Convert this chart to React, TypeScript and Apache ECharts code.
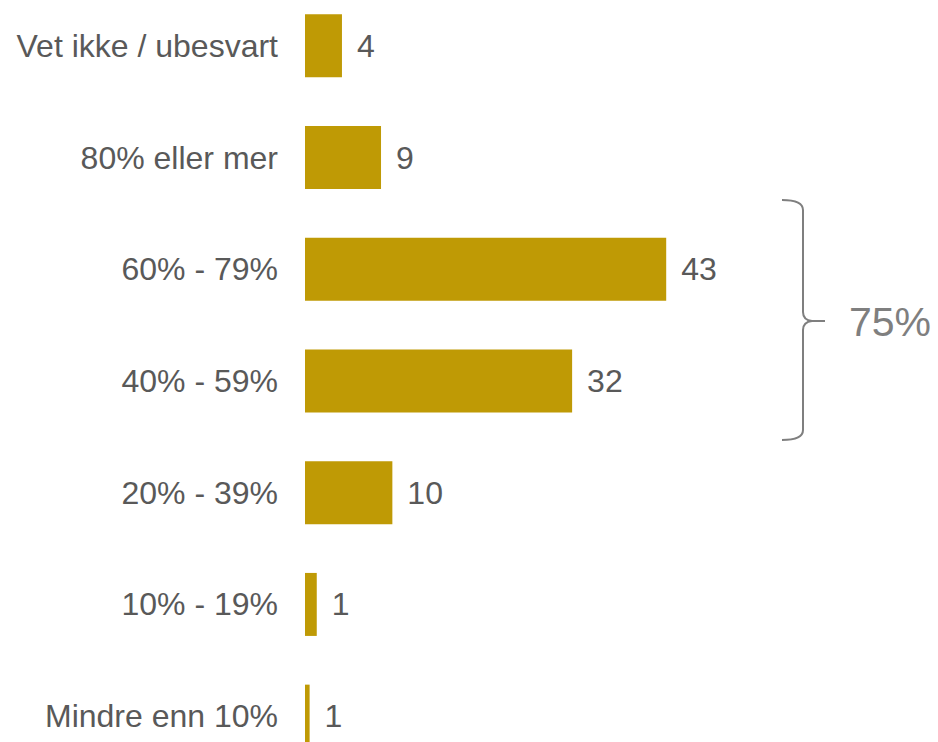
import React, { useEffect, useRef } from "react";
import * as echarts from "echarts";

const categories = [
  "Vet ikke / ubesvart",
  "80% eller mer",
  "60% - 79%",
  "40% - 59%",
  "20% - 39%",
  "10% - 19%",
  "Mindre enn 10%",
];
const values = [4.4, 9.05, 43, 31.8, 10.4, 1.4, 0.55];
const valueLabels = ["4", "9", "43", "32", "10", "1", "1"];
const bracketLabel = "75%";

const BAR_COLOR = "#BF9A05";
const TEXT_COLOR = "#595959";
const GRAY = "#7F7F7F";
const FONT = "'Liberation Sans', Arial, sans-serif";
const OFFSET = 10;

const braceD =
  "M782,210 Q803,210 803,220 L803,322 Q803,330 812,331 L825,331 M812,331 Q803,332 803,340 L803,440 Q803,450 782,450";

let registered = false;

export default function App() {
  const ref = useRef<HTMLDivElement>(null);
  useEffect(() => {
    document.body.style.margin = "0";
    document.body.style.overflow = "hidden";
    if (!registered) {
      echarts.graphic.registerShape("brace", echarts.graphic.extendPath(braceD, {}));
      registered = true;
    }
    const chart = echarts.init(ref.current!, null, { renderer: "svg" });
    chart.setOption({
      animation: false,
      grid: { left: 305, right: 213, top: 0, height: 782 },
      xAxis: {
        type: "value",
        min: 0,
        max: 50,
        show: false,
        splitLine: { show: false },
      },
      yAxis: {
        type: "category",
        inverse: true,
        data: categories,
        axisLine: { show: false },
        axisTick: { show: false },
        axisLabel: {
          color: TEXT_COLOR,
          fontSize: 32,
          fontFamily: FONT,
          margin: 27,
        },
      },
      series: [
        {
          type: "bar",
          data: values,
          barWidth: 63,
          itemStyle: { color: BAR_COLOR },
          label: {
            show: true,
            position: "right",
            distance: 15,
            color: TEXT_COLOR,
            fontSize: 32,
            fontFamily: FONT,
            formatter: (p: any) => valueLabels[p.dataIndex],
          },
        },
      ],
      graphic: [
        {
          type: "brace",
          x: 0,
          y: 0,
          shape: {},
          style: { stroke: GRAY, fill: "none", lineWidth: 2 },
        },
        {
          type: "text",
          x: 849,
          y: 332,
          style: {
            text: bracketLabel,
            fill: GRAY,
            fontSize: 41,
            fontFamily: FONT,
            verticalAlign: "middle",
          },
        },
      ],
    });
    return () => chart.dispose();
  }, []);
  return (
    <div
      ref={ref}
      style={{ position: "absolute", left: 0, top: -OFFSET, width: 938, height: 800 }}
    />
  );
}
